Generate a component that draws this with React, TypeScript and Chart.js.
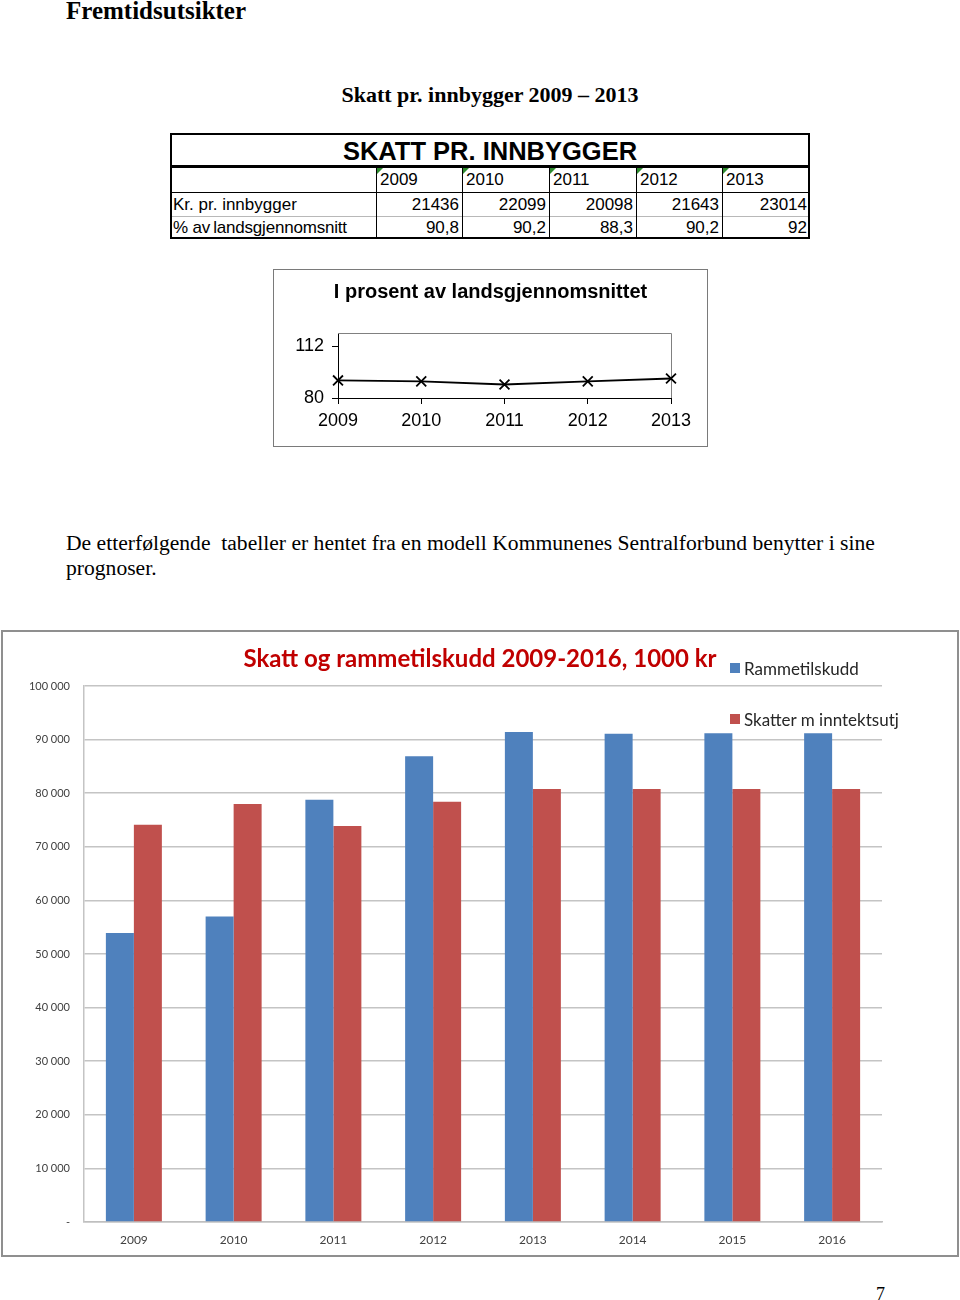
import React, { useEffect, useRef } from "react";
import { Chart, registerables } from "chart.js";

Chart.register(...registerables);

// ---- Table / small line chart data ----
const tableYears = ["2009", "2010", "2011", "2012", "2013"];
const krPerInnbygger = [21436, 22099, 20098, 21643, 23014];
const pctOfNational = [90.8, 90.2, 88.3, 90.2, 92];
const lineYTicks = [80, 112];

// ---- Bar chart data ----
const barYears = ["2009", "2010", "2011", "2012", "2013", "2014", "2015", "2016"];
const rammetilskudd = [53900, 57000, 78800, 86900, 91400, 91100, 91200, 91200];
const skatterInntektsutj = [74100, 78000, 73900, 78400, 80800, 80800, 80800, 80800];
const barSeriesNames = ["Rammetilskudd", "Skatter m inntektsutj"];
const barColors = ["#4F81BD", "#C0504D"];

const SANS = '"Liberation Sans", Arial, sans-serif';
const SERIF = '"Liberation Serif", "Times New Roman", serif';
const CAL = 'Lato, "Open Sans", sans-serif';

const fmtThousands = (v: number) =>
  String(v).replace(/\B(?=(\d{3})+(?!\d))/g, " ");
const fmtComma = (v: number) => String(v).replace(".", ",");

function LineChart() {
  const ref = useRef<HTMLCanvasElement>(null);
  useEffect(() => {
    if (!ref.current) return;
    const frame = {
      id: "frame",
      beforeDatasetsDraw(chart: any) {
        const { ctx, chartArea: a } = chart;
        ctx.save();
        ctx.strokeStyle = "#808080";
        ctx.lineWidth = 1;
        ctx.beginPath();
        ctx.moveTo(a.left, Math.round(a.top) + 0.5);
        ctx.lineTo(Math.round(a.right) + 0.5, Math.round(a.top) + 0.5);
        ctx.lineTo(Math.round(a.right) + 0.5, a.bottom);
        ctx.stroke();
        ctx.restore();
      },
    };
    const chart = new Chart(ref.current, {
      type: "line",
      data: {
        labels: tableYears,
        datasets: [
          {
            data: pctOfNational,
            borderColor: "#000",
            borderWidth: 1.8,
            pointStyle: "crossRot",
            pointRadius: 7,
            pointBorderWidth: 1.8,
            pointBorderColor: "#000",
            pointBackgroundColor: "#000",
            tension: 0,
          },
        ],
      },
      options: {
        responsive: false,
        animation: false,
        layout: { padding: { left: 0, right: 36, top: 63, bottom: 0 } },
        plugins: {
          legend: { display: false },
          tooltip: { enabled: false },
          title: { display: false },
        },
        scales: {
          x: {
            offset: false,
            grid: { drawOnChartArea: false, color: "#000", tickLength: 6 },
            border: { color: "#000" },
            ticks: {
              color: "#000",
              font: { family: SANS, size: 18 },
              padding: 6,
              maxRotation: 0,
              autoSkip: false,
            },
            afterFit: (s: any) => {
              s.height = 48;
            },
          },
          y: {
            min: 80,
            max: 120,
            afterBuildTicks: (s: any) => {
              s.ticks = lineYTicks.map((v) => ({ value: v }));
            },
            grid: { drawOnChartArea: false, color: "#000", tickLength: 6 },
            border: { color: "#000" },
            ticks: {
              color: "#000",
              font: { family: SANS, size: 18 },
              padding: 8,
            },
            afterFit: (s: any) => {
              s.width = 64;
            },
          },
        },
      } as any,
      plugins: [frame],
    });
    return () => chart.destroy();
  }, []);
  return <canvas ref={ref} width={433} height={176} style={{ display: "block" }} />;
}

function BarChart() {
  const ref = useRef<HTMLCanvasElement>(null);
  useEffect(() => {
    if (!ref.current) return;
    const chart = new Chart(ref.current, {
      type: "bar",
      data: {
        labels: barYears,
        datasets: [
          { label: barSeriesNames[0], data: rammetilskudd, backgroundColor: barColors[0] },
          { label: barSeriesNames[1], data: skatterInntektsutj, backgroundColor: barColors[1] },
        ],
      },
      options: {
        responsive: false,
        animation: false,
        layout: { padding: { left: 0, right: 75, top: 54, bottom: 0 } },
        datasets: { bar: { barPercentage: 1, categoryPercentage: 0.5614 } },
        plugins: {
          legend: { display: false },
          tooltip: { enabled: false },
          title: { display: false },
        },
        scales: {
          x: {
            grid: { display: false },
            border: { color: "#bfbfbf", width: 1.5 },
            ticks: {
              color: "#404040",
              font: { family: CAL, size: 12 },
              padding: 3,
              maxRotation: 0,
            },
            afterFit: (s: any) => {
              s.height = 33;
            },
          },
          y: {
            min: 0,
            max: 100000,
            ticks: {
              stepSize: 10000,
              color: "#404040",
              font: { family: CAL, size: 11 },
              padding: 14,
              callback: (v: any) => (v === 0 ? "-" : fmtThousands(v)),
            },
            grid: { color: "#c4c4c4", lineWidth: 1.5, drawTicks: false },
            border: { display: true, color: "#c4c4c4", width: 1.5 },
            afterFit: (s: any) => {
              s.width = 81;
            },
          },
        },
      } as any,
    });
    return () => chart.destroy();
  }, []);
  return <canvas ref={ref} width={954} height={623} style={{ display: "block" }} />;
}

const colX = [170, 376, 462, 549, 636, 722, 810];
const rowY = [133, 166, 192, 216, 238];

function abs(left: number, top: number, width: number, height: number): React.CSSProperties {
  return { position: "absolute", left, top, width, height };
}

function Table() {
  const els: React.ReactNode[] = [];
  els.push(
    <div
      key="t"
      style={{
        ...abs(colX[0], rowY[0], 640, rowY[1] - rowY[0]),
        display: "flex",
        alignItems: "center",
        justifyContent: "center",
        font: `bold 25.5px ${SANS}`,
        paddingTop: 4,
        boxSizing: "border-box",
      }}
    >
      SKATT PR. INNBYGGER
    </div>
  );
  els.push(<div key="h1" style={{ ...abs(colX[0], rowY[1] - 1, 640, 3), background: "#000" }} />);
  els.push(<div key="h2" style={{ ...abs(colX[0], rowY[2], 640, 1), background: "#000" }} />);
  els.push(<div key="h3" style={{ ...abs(colX[0], rowY[3], 640, 1), background: "#b8b8b8" }} />);
  for (let i = 1; i < colX.length - 1; i++) {
    els.push(
      <div key={"v" + i} style={{ ...abs(colX[i], rowY[1], 1, rowY[4] - rowY[1]), background: "#000" }} />
    );
  }
  const cellFont = `17px ${SANS}`;
  tableYears.forEach((y, i) => {
    els.push(
      <div
        key={"y" + i}
        style={{
          ...abs(colX[i + 1] + 1, rowY[1] + 2, colX[i + 2] - colX[i + 1] - 1, rowY[2] - rowY[1] - 2),
          font: cellFont,
          display: "flex",
          alignItems: "center",
          paddingLeft: 3,
          boxSizing: "border-box",
        }}
      >
        <div
          style={{
            position: "absolute",
            left: 0,
            top: 0,
            width: 0,
            height: 0,
            borderTop: "6px solid #2e8b2e",
            borderRight: "6px solid transparent",
          }}
        />
        {y}
      </div>
    );
  });
  const rowLabels = ["Kr. pr. innbygger", "% av\u2009landsgjennomsnitt"];
  const rowVals = [krPerInnbygger.map((v) => String(v)), pctOfNational.map(fmtComma)];
  rowLabels.forEach((lab, r) => {
    const top = rowY[2 + r] + 1;
    const h = rowY[3 + r] - rowY[2 + r] - 1;
    els.push(
      <div
        key={"l" + r}
        style={{
          ...abs(colX[0] + 3, top, colX[1] - colX[0] - 3, h),
          font: cellFont,
          display: "flex",
          alignItems: "center",
          letterSpacing: r === 1 ? "-0.2px" : undefined,
        }}
      >
        {lab}
      </div>
    );
    rowVals[r].forEach((v, i) => {
      els.push(
        <div
          key={"c" + r + "_" + i}
          style={{
            ...abs(colX[i + 1], top, colX[i + 2] - colX[i + 1] - 3, h),
            font: cellFont,
            display: "flex",
            alignItems: "center",
            justifyContent: "flex-end",
          }}
        >
          {v}
        </div>
      );
    });
  });
  return (
    <>
      {els}
      <div
        style={{
          ...abs(colX[0], rowY[0], 640, rowY[4] - rowY[0] + 1),
          border: "2px solid #000",
          boxSizing: "border-box",
        }}
      />
    </>
  );
}

export default function App() {
  return (
    <div
      style={{
        position: "absolute",
        left: 0,
        top: 0,
        width: 960,
        height: 1300,
        background: "#fff",
        overflow: "hidden",
        color: "#000",
      }}
    >
      <div style={{ position: "absolute", left: 66, top: -4, font: `bold 25px ${SERIF}`, lineHeight: "30px", whiteSpace: "nowrap" }}>
        Fremtidsutsikter
      </div>
      <div
        style={{
          position: "absolute",
          left: 290,
          top: 83,
          width: 400,
          textAlign: "center",
          font: `bold 22px ${SERIF}`,
          lineHeight: "24px",
        }}
      >
        Skatt pr. innbygger 2009 – 2013
      </div>

      <Table />

      <div
        style={{
          position: "absolute",
          left: 273,
          top: 269,
          width: 435,
          height: 178,
          border: "1px solid #7a7a7a",
          boxSizing: "border-box",
        }}
      >
        <LineChart />
        <div
          style={{
            position: "absolute",
            left: 0,
            top: 9,
            width: 433,
            height: 24,
            textAlign: "center",
            font: `bold 20px ${SANS}`,
            lineHeight: "24px",
            whiteSpace: "nowrap",
          }}
        >
          I prosent av landsgjennomsnittet
        </div>
      </div>

      <div
        style={{
          position: "absolute",
          left: 66,
          top: 531,
          font: `21.6px ${SERIF}`,
          lineHeight: "25px",
          whiteSpace: "pre",
        }}
      >
        {"De etterfølgende  tabeller er hentet fra en modell Kommunenes Sentralforbund benytter i sine\nprognoser."}
      </div>

      <div
        style={{
          position: "absolute",
          left: 1,
          top: 630,
          width: 958,
          height: 627,
          border: "2px solid #8f8f8f",
          boxSizing: "border-box",
        }}
      >
        <BarChart />
      </div>

      <div
        style={{
          position: "absolute",
          left: 180,
          top: 643,
          width: 600,
          height: 30,
          textAlign: "center",
          font: `bold 24px ${CAL}`,
          lineHeight: "30px",
          color: "#C00000",
          whiteSpace: "nowrap",
        }}
      >
        Skatt og rammetilskudd 2009-2016, 1000 kr
      </div>

      {barSeriesNames.map((name, i) => (
        <div
          key={name}
          style={{
            position: "absolute",
            left: 730,
            top: 659 + i * 51,
            height: 18,
            display: "flex",
            alignItems: "center",
            font: `17px ${CAL}`,
            color: "#262626",
            whiteSpace: "nowrap",
          }}
        >
          <span style={{ display: "inline-block", width: 10, height: 10, background: barColors[i], marginRight: 4 }} />
          {name}
        </div>
      ))}

      <div style={{ position: "absolute", left: 876, top: 1283, font: `18px ${SERIF}`, lineHeight: "22px" }}>7</div>
    </div>
  );
}
